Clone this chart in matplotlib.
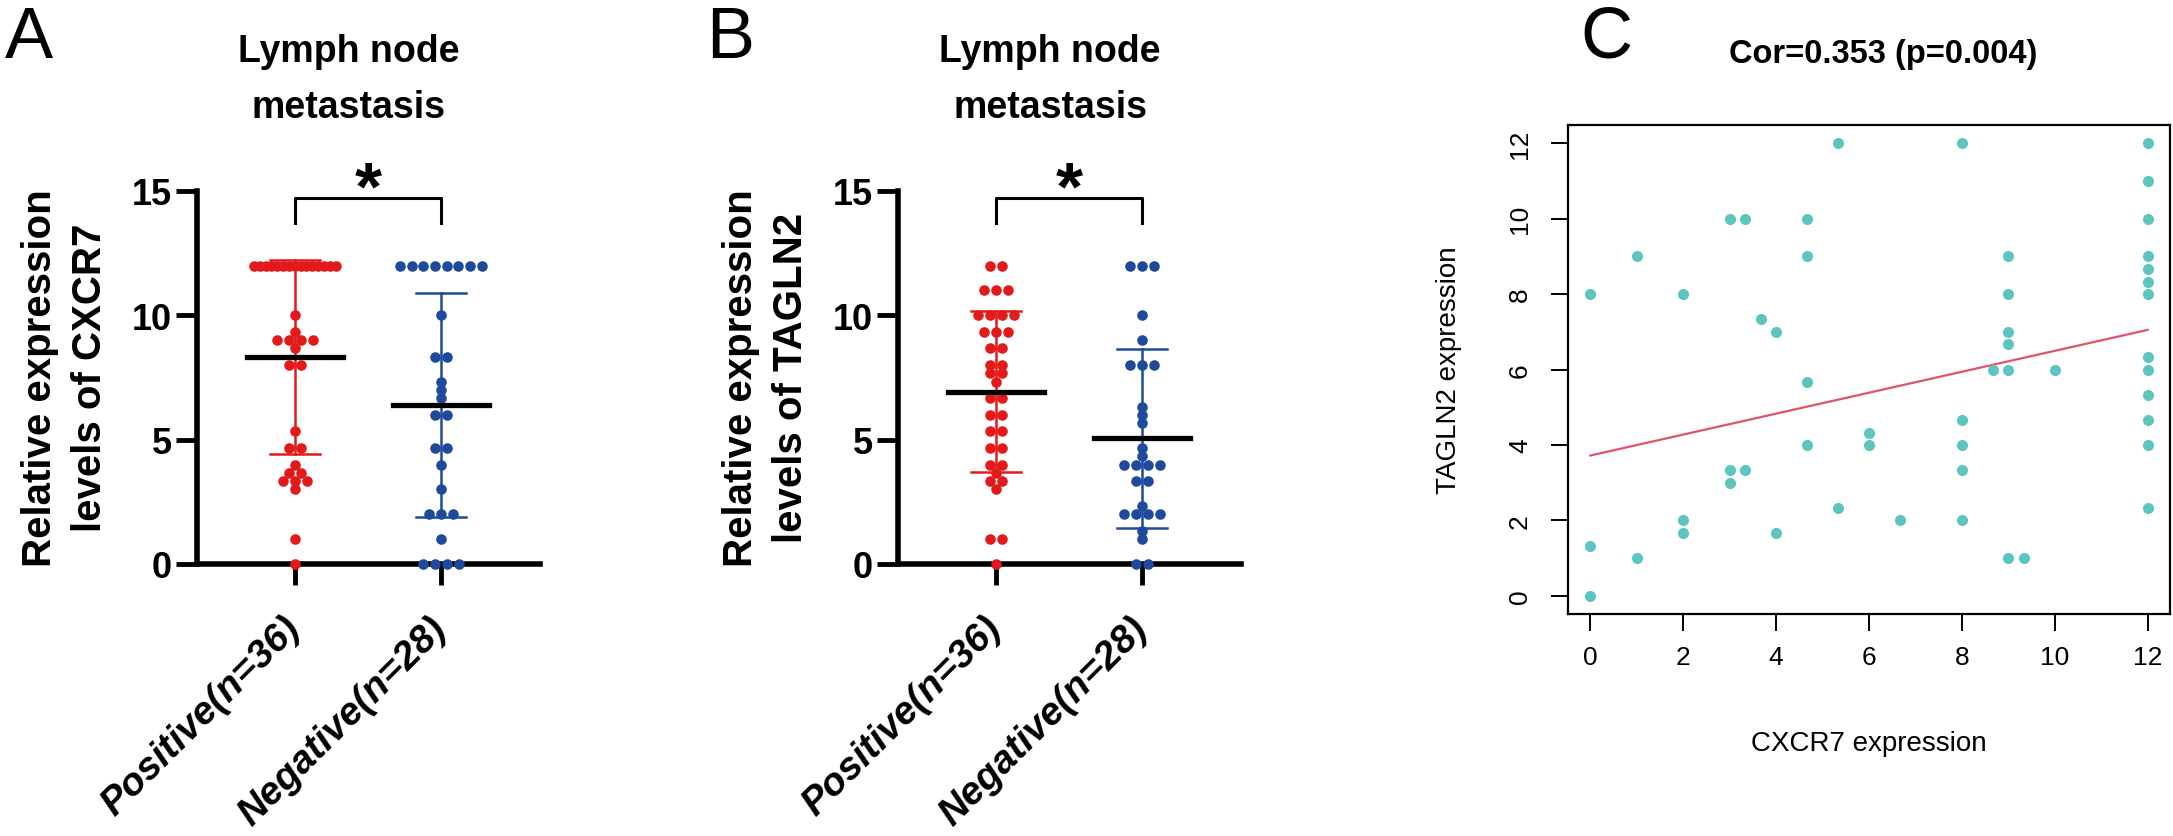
import numpy as np
import matplotlib.pyplot as plt

plt.rcParams['font.family'] = ['Liberation Sans', 'DejaVu Sans']

W, H = 2173, 837

groups = ["Positive(n=36)", "Negative(n=28)"]
group_colors = ["#E31A1C", "#1F4A9C"]

# panel A: CXCR7 scores by lymph node metastasis
cxcr7_pos = [12] * 15 + [10, 9.33, 9, 9, 9, 9, 8.67, 8, 8,
                         5.33, 4.67, 4.67, 4, 3.67, 3.67, 3.33, 3.33, 3.33, 3, 1, 0]
cxcr7_neg = [12] * 8 + [10, 8.33, 8.33, 7.33, 7, 6.67, 6, 6, 4.67, 4.67, 4, 3,
                        2, 2, 2, 1, 0, 0, 0, 0]

# panel B: TAGLN2 scores by lymph node metastasis
tagln2_pos = [12, 12, 11, 11, 11, 10, 10, 10, 10, 9.33, 9.33, 9.33, 8.67, 8.67,
              8, 8, 7.67, 7.67, 7.33, 6.67, 6.67, 6, 6, 5.33, 5.33, 4.67, 4.67,
              4, 4, 3.67, 3.33, 3.33, 3, 1, 1, 0]
tagln2_neg = [12, 12, 12, 10, 9, 8, 8, 8, 6.33, 6, 5.67, 4.67, 4.33, 4, 4, 4, 4,
              3.33, 3.33, 2.33, 2, 2, 2, 2, 1.33, 1, 0, 0]

# panel C: correlation
cxcr7_score = [0, 0, 0, 1, 1, 2, 2, 2, 3, 3.33, 3, 3.33, 3, 3.67, 4, 4,
               4.67, 4.67, 4.67, 4.67, 5.33, 5.33, 6, 6, 6.67,
               8, 8, 8, 8, 8, 8.67, 9, 9, 9, 9, 9, 9, 9.33, 10] + [12] * 13
tagln2_score = [8, 1.33, 0, 9, 1, 8, 2, 1.67, 10, 10, 3.33, 3.33, 3, 7.33, 7, 1.67,
                10, 9, 5.67, 4, 12, 2.33, 4.33, 4, 2,
                12, 4.67, 4, 3.33, 2, 6, 9, 8, 7, 6.67, 6, 1, 1, 6,
                12, 11, 10, 9, 8.67, 8.33, 8, 6.33, 6, 5.33, 4.67, 4, 2.33]
# fitted line as drawn in the figure (values at x=0 and x=12)
fit_x = [0, 12]
fit_y = [3.72, 7.05]


def fx(px):
    return px / W


def fy(py):
    return 1 - py / H


def spread(vals, step=0.082, maxw=0.56):
    vals = np.asarray(vals, float)
    off = np.zeros_like(vals)
    for v in np.unique(vals):
        idx = np.where(vals == v)[0]
        n = len(idx)
        if n > 1:
            sp = min(step, maxw / (n - 1))
            off[idx] = (np.arange(n) - (n - 1) / 2) * sp
    return off


fig = plt.figure(figsize=(W / 100, H / 100), dpi=100)


def dot_panel(ax_px, data, gene, letter):
    ax = fig.add_axes([fx(ax_px), fy(565), fx(343), 373 / H])
    for i, (vals, col) in enumerate(zip(data, group_colors)):
        vals = np.asarray(vals, float)
        ax.scatter(i + spread(vals), vals, s=58, color=col, linewidths=0,
                   zorder=3, clip_on=False)
        m, sd = vals.mean(), vals.std(ddof=1)
        ax.plot([i, i], [m - sd, m + sd], color=col, lw=1.8, zorder=4)
        for yy in (m - sd, m + sd):
            ax.plot([i - 0.17, i + 0.17], [yy, yy], color=col, lw=1.8, zorder=4)
        ax.plot([i - 0.33, i + 0.33], [m, m], color="black", lw=3.8, zorder=5)

    ax.set_xlim(-0.67, 1.68)
    ax.set_ylim(0, 15)
    ax.set_yticks([0, 5, 10, 15])
    ax.set_xticks([0, 1])
    ax.tick_params(axis='both', width=3.5, length=15, labelsize=26)
    ax.tick_params(axis='x', pad=27)
    ax.tick_params(axis='y', pad=3)
    ax.set_xticklabels(groups, rotation=45, ha='right', va='center',
                       rotation_mode='anchor', fontsize=28,
                       fontweight='bold', fontstyle='italic')
    for lab in ax.get_yticklabels():
        lab.set_fontweight('bold')
    for s in ['top', 'right']:
        ax.spines[s].set_visible(False)
    for s in ['left', 'bottom']:
        ax.spines[s].set_linewidth(4)

    # significance bracket
    ax.plot([0, 0, 1, 1], [13.7, 14.7, 14.7, 13.7], color="black", lw=2.2,
            clip_on=False)
    ax.text(0.5, 14.3, "*", ha='center', va='baseline', fontsize=50,
            fontweight='bold', clip_on=False)

    # y label, two lines
    yc = fy(378)
    fig.text(fx(ax_px - 146), yc, "Relative expression", rotation=90,
             rotation_mode='anchor', ha='center', va='baseline',
             fontsize=29, fontweight='bold')
    fig.text(fx(ax_px - 96), yc, "levels of " + gene, rotation=90,
             rotation_mode='anchor', ha='center', va='baseline',
             fontsize=29, fontweight='bold')

    # title
    tx = fx(ax_px + 152)
    fig.text(tx, fy(62), "Lymph node", ha='center', va='baseline',
             fontsize=27, fontweight='bold')
    fig.text(tx, fy(118), "metastasis", ha='center', va='baseline',
             fontsize=27, fontweight='bold')

    fig.text(fx(ax_px - 192), fy(58), letter, ha='left', va='baseline',
             fontsize=52)
    return ax


dot_panel(197, [cxcr7_pos, cxcr7_neg], "CXCR7", "A")
dot_panel(898, [tagln2_pos, tagln2_neg], "TAGLN2", "B")

# panel C
teal = "#5CC5BE"
axc = fig.add_axes([fx(1568), fy(615), fx(602), 489 / H])
axc.scatter(cxcr7_score, tagln2_score, s=64, color=teal, linewidths=0, zorder=3)
axc.plot(fit_x, fit_y, color="#DF536B", lw=1.6, zorder=2)
axc.set_xlim(-0.48, 12.48)
axc.set_ylim(-0.48, 12.48)
ticks = [0, 2, 4, 6, 8, 10, 12]
axc.set_xticks(ticks)
axc.set_yticks(ticks)
axc.tick_params(length=12, width=1.4, labelsize=19)
axc.tick_params(axis='x', pad=10)
axc.tick_params(axis='y', pad=14)
axc.set_yticklabels([str(t) for t in ticks], rotation=90, va='center')
for s in axc.spines.values():
    s.set_linewidth(1.6)
axc.set_xlabel("CXCR7 expression", fontsize=20, labelpad=44)
axc.set_ylabel("TAGLN2 expression", fontsize=20, labelpad=33)
fig.text(fx(1883), fy(55), "Cor=0.353 (p=0.004)", ha='center', va='center',
         fontsize=23.5, fontweight='bold')
fig.text(fx(1580), fy(58), "C", ha='left', va='baseline', fontsize=52)

fig.savefig("out.png", dpi=100)
